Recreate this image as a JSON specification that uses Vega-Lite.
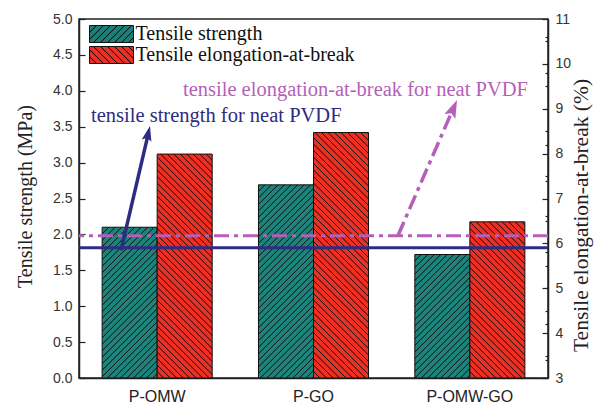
{
  "$schema": "https://vega.github.io/schema/vega-lite/v6.json",
  "width": 469,
  "height": 359,
  "autosize": {"type": "none"},
  "padding": {"left": 79, "top": 19, "right": 47, "bottom": 26},
  "background": "white",
  "config": {
    "view": {"stroke": "#222", "strokeWidth": 1.5},
    "axis": {"grid": false, "domainColor": "#222", "domainWidth": 1.5, "tickColor": "#222", "tickWidth": 1.2, "labelFont": "Liberation Sans", "labelFontSize": 14, "labelColor": "#333", "titleFont": "Liberation Serif", "titleFontSize": 21.5, "titleFontWeight": "normal", "titleColor": "#222"}
  },
  "params": [
    {"name": "hatch", "expr": "[{offset:0.017,color:'transparent'},{offset:0.02,color:'#111'},{offset:0.023,color:'transparent'},{offset:0.037,color:'transparent'},{offset:0.04,color:'#111'},{offset:0.043,color:'transparent'},{offset:0.057,color:'transparent'},{offset:0.06,color:'#111'},{offset:0.063,color:'transparent'},{offset:0.077,color:'transparent'},{offset:0.08,color:'#111'},{offset:0.083,color:'transparent'},{offset:0.097,color:'transparent'},{offset:0.1,color:'#111'},{offset:0.103,color:'transparent'},{offset:0.117,color:'transparent'},{offset:0.12,color:'#111'},{offset:0.123,color:'transparent'},{offset:0.137,color:'transparent'},{offset:0.14,color:'#111'},{offset:0.143,color:'transparent'},{offset:0.157,color:'transparent'},{offset:0.16,color:'#111'},{offset:0.163,color:'transparent'},{offset:0.177,color:'transparent'},{offset:0.18,color:'#111'},{offset:0.183,color:'transparent'},{offset:0.197,color:'transparent'},{offset:0.2,color:'#111'},{offset:0.203,color:'transparent'},{offset:0.217,color:'transparent'},{offset:0.22,color:'#111'},{offset:0.223,color:'transparent'},{offset:0.237,color:'transparent'},{offset:0.24,color:'#111'},{offset:0.243,color:'transparent'},{offset:0.257,color:'transparent'},{offset:0.26,color:'#111'},{offset:0.263,color:'transparent'},{offset:0.277,color:'transparent'},{offset:0.28,color:'#111'},{offset:0.283,color:'transparent'},{offset:0.297,color:'transparent'},{offset:0.3,color:'#111'},{offset:0.303,color:'transparent'},{offset:0.317,color:'transparent'},{offset:0.32,color:'#111'},{offset:0.323,color:'transparent'},{offset:0.337,color:'transparent'},{offset:0.34,color:'#111'},{offset:0.343,color:'transparent'},{offset:0.357,color:'transparent'},{offset:0.36,color:'#111'},{offset:0.363,color:'transparent'},{offset:0.377,color:'transparent'},{offset:0.38,color:'#111'},{offset:0.383,color:'transparent'},{offset:0.397,color:'transparent'},{offset:0.4,color:'#111'},{offset:0.403,color:'transparent'},{offset:0.417,color:'transparent'},{offset:0.42,color:'#111'},{offset:0.423,color:'transparent'},{offset:0.437,color:'transparent'},{offset:0.44,color:'#111'},{offset:0.443,color:'transparent'},{offset:0.457,color:'transparent'},{offset:0.46,color:'#111'},{offset:0.463,color:'transparent'},{offset:0.477,color:'transparent'},{offset:0.48,color:'#111'},{offset:0.483,color:'transparent'},{offset:0.497,color:'transparent'},{offset:0.5,color:'#111'},{offset:0.503,color:'transparent'},{offset:0.517,color:'transparent'},{offset:0.52,color:'#111'},{offset:0.523,color:'transparent'},{offset:0.537,color:'transparent'},{offset:0.54,color:'#111'},{offset:0.543,color:'transparent'},{offset:0.557,color:'transparent'},{offset:0.56,color:'#111'},{offset:0.563,color:'transparent'},{offset:0.577,color:'transparent'},{offset:0.58,color:'#111'},{offset:0.583,color:'transparent'},{offset:0.597,color:'transparent'},{offset:0.6,color:'#111'},{offset:0.603,color:'transparent'},{offset:0.617,color:'transparent'},{offset:0.62,color:'#111'},{offset:0.623,color:'transparent'},{offset:0.637,color:'transparent'},{offset:0.64,color:'#111'},{offset:0.643,color:'transparent'},{offset:0.657,color:'transparent'},{offset:0.66,color:'#111'},{offset:0.663,color:'transparent'},{offset:0.677,color:'transparent'},{offset:0.68,color:'#111'},{offset:0.683,color:'transparent'},{offset:0.697,color:'transparent'},{offset:0.7,color:'#111'},{offset:0.703,color:'transparent'},{offset:0.717,color:'transparent'},{offset:0.72,color:'#111'},{offset:0.723,color:'transparent'},{offset:0.737,color:'transparent'},{offset:0.74,color:'#111'},{offset:0.743,color:'transparent'},{offset:0.757,color:'transparent'},{offset:0.76,color:'#111'},{offset:0.763,color:'transparent'},{offset:0.777,color:'transparent'},{offset:0.78,color:'#111'},{offset:0.783,color:'transparent'},{offset:0.797,color:'transparent'},{offset:0.8,color:'#111'},{offset:0.803,color:'transparent'},{offset:0.817,color:'transparent'},{offset:0.82,color:'#111'},{offset:0.823,color:'transparent'},{offset:0.837,color:'transparent'},{offset:0.84,color:'#111'},{offset:0.843,color:'transparent'},{offset:0.857,color:'transparent'},{offset:0.86,color:'#111'},{offset:0.863,color:'transparent'},{offset:0.877,color:'transparent'},{offset:0.88,color:'#111'},{offset:0.883,color:'transparent'},{offset:0.897,color:'transparent'},{offset:0.9,color:'#111'},{offset:0.903,color:'transparent'},{offset:0.917,color:'transparent'},{offset:0.92,color:'#111'},{offset:0.923,color:'transparent'},{offset:0.937,color:'transparent'},{offset:0.94,color:'#111'},{offset:0.943,color:'transparent'},{offset:0.957,color:'transparent'},{offset:0.96,color:'#111'},{offset:0.963,color:'transparent'},{offset:0.977,color:'transparent'},{offset:0.98,color:'#111'},{offset:0.983,color:'transparent'}]"},
    {"name": "tealLegendGrad", "expr": "{gradient:'linear',x1:0,y1:0,x2:1.246,y2:0.481,stops:[{offset:0,color:'#1a8078'},{offset:0.093,color:'#1a8078'},{offset:0.111,color:'#111'},{offset:0.129,color:'#1a8078'},{offset:0.204,color:'#1a8078'},{offset:0.222,color:'#111'},{offset:0.24,color:'#1a8078'},{offset:0.315,color:'#1a8078'},{offset:0.333,color:'#111'},{offset:0.351,color:'#1a8078'},{offset:0.426,color:'#1a8078'},{offset:0.444,color:'#111'},{offset:0.462,color:'#1a8078'},{offset:0.538,color:'#1a8078'},{offset:0.556,color:'#111'},{offset:0.574,color:'#1a8078'},{offset:0.649,color:'#1a8078'},{offset:0.667,color:'#111'},{offset:0.685,color:'#1a8078'},{offset:0.76,color:'#1a8078'},{offset:0.778,color:'#111'},{offset:0.796,color:'#1a8078'},{offset:0.871,color:'#1a8078'},{offset:0.889,color:'#111'},{offset:0.907,color:'#1a8078'},{offset:1,color:'#1a8078'}]}"},
    {"name": "redLegendGrad", "expr": "{gradient:'linear',x1:0,y1:1,x2:1.246,y2:0.519,stops:[{offset:0,color:'#ed2f24'},{offset:0.093,color:'#ed2f24'},{offset:0.111,color:'#111'},{offset:0.129,color:'#ed2f24'},{offset:0.204,color:'#ed2f24'},{offset:0.222,color:'#111'},{offset:0.24,color:'#ed2f24'},{offset:0.315,color:'#ed2f24'},{offset:0.333,color:'#111'},{offset:0.351,color:'#ed2f24'},{offset:0.426,color:'#ed2f24'},{offset:0.444,color:'#111'},{offset:0.462,color:'#ed2f24'},{offset:0.538,color:'#ed2f24'},{offset:0.556,color:'#111'},{offset:0.574,color:'#ed2f24'},{offset:0.649,color:'#ed2f24'},{offset:0.667,color:'#111'},{offset:0.685,color:'#ed2f24'},{offset:0.76,color:'#ed2f24'},{offset:0.778,color:'#111'},{offset:0.796,color:'#ed2f24'},{offset:0.871,color:'#ed2f24'},{offset:0.889,color:'#111'},{offset:0.907,color:'#ed2f24'},{offset:1,color:'#ed2f24'}]}"}
  ],
  "datasets": {
    "bars": [
      {"sample": "P-OMW", "property": "Tensile strength", "value": 2.10},
      {"sample": "P-GO", "property": "Tensile strength", "value": 2.69},
      {"sample": "P-OMW-GO", "property": "Tensile strength", "value": 1.72},
      {"sample": "P-OMW", "property": "Tensile elongation-at-break", "value": 7.99},
      {"sample": "P-GO", "property": "Tensile elongation-at-break", "value": 8.47},
      {"sample": "P-OMW-GO", "property": "Tensile elongation-at-break", "value": 6.48}
    ]
  },
  "layer": [
    {
      "data": {"name": "bars"},
      "transform": [{"filter": "datum.property === 'Tensile strength'"}],
      "mark": {"type": "bar", "color": "#1d837b"},
      "encoding": {
        "x": {"field": "sample", "type": "nominal", "scale": {"domain": ["P-OMW", "P-GO", "P-OMW-GO"], "paddingInner": 0.296, "paddingOuter": 0.148}, "axis": {"title": null, "labelAngle": 0, "labelFontSize": 16, "labelColor": "#222", "labelPadding": 10, "ticks": false, "tickSize": 0}},
        "xOffset": {"field": "property", "type": "nominal", "scale": {"domain": ["Tensile strength", "Tensile elongation-at-break"]}},
        "y": {"field": "value", "type": "quantitative", "scale": {"domain": [0, 5]}, "axis": {"title": "Tensile strength (MPa)", "titleFontSize": 20, "titleY": 177, "values": [0, 0.5, 1, 1.5, 2, 2.5, 3, 3.5, 4, 4.5, 5], "format": ".1f", "tickSize": -6, "labelPadding": 13, "titlePadding": 17}}
      }
    },
    {
      "data": {"name": "bars"},
      "transform": [{"filter": "datum.property === 'Tensile strength'"}],
      "mark": {"type": "bar", "fill": {"expr": "{gradient:'linear',x1:0,y1:0,x2:17875/(3025+pow(datum.value*71.8,2)),y2:325*datum.value*71.8/(3025+pow(datum.value*71.8,2)),stops:hatch}"}, "stroke": "#111", "strokeWidth": 1},
      "encoding": {
        "x": {"field": "sample", "type": "nominal", "scale": {"domain": ["P-OMW", "P-GO", "P-OMW-GO"], "paddingInner": 0.296, "paddingOuter": 0.148}, "axis": null},
        "xOffset": {"field": "property", "type": "nominal", "scale": {"domain": ["Tensile strength", "Tensile elongation-at-break"]}},
        "y": {"field": "value", "type": "quantitative", "scale": {"domain": [0, 5]}, "axis": {"title": null, "labels": false, "domain": false, "values": [0.25, 0.75, 1.25, 1.75, 2.25, 2.75, 3.25, 3.75, 4.25, 4.75], "tickSize": -3}}
      }
    },
    {
      "data": {"name": "bars"},
      "transform": [{"filter": "datum.property === 'Tensile elongation-at-break'"}],
      "mark": {"type": "bar", "color": "#ed2f24"},
      "encoding": {
        "x": {"field": "sample", "type": "nominal", "scale": {"domain": ["P-OMW", "P-GO", "P-OMW-GO"], "paddingInner": 0.296, "paddingOuter": 0.148}, "axis": null},
        "xOffset": {"field": "property", "type": "nominal", "scale": {"domain": ["Tensile strength", "Tensile elongation-at-break"]}},
        "y": {"field": "value", "type": "quantitative", "scale": {"domain": [3, 11], "zero": false}, "axis": {"orient": "right", "title": "Tensile elongation-at-break (%)", "titleFontSize": 21.5, "titleY": 196, "titleAngle": 270, "titleBaseline": "top", "values": [3, 4, 5, 6, 7, 8, 9, 10, 11], "format": "d", "tickSize": -6, "labelPadding": 13, "titlePadding": 0}},
        "y2": {"datum": 3}
      }
    },
    {
      "data": {"name": "bars"},
      "transform": [{"filter": "datum.property === 'Tensile elongation-at-break'"}],
      "mark": {"type": "bar", "fill": {"expr": "{gradient:'linear',x1:0,y1:1,x2:17875/(3025+pow((datum.value-3)*44.875,2)),y2:1-325*(datum.value-3)*44.875/(3025+pow((datum.value-3)*44.875,2)),stops:hatch}"}, "stroke": "#111", "strokeWidth": 1},
      "encoding": {
        "x": {"field": "sample", "type": "nominal", "scale": {"domain": ["P-OMW", "P-GO", "P-OMW-GO"], "paddingInner": 0.296, "paddingOuter": 0.148}, "axis": null},
        "xOffset": {"field": "property", "type": "nominal", "scale": {"domain": ["Tensile strength", "Tensile elongation-at-break"]}},
        "y": {"field": "value", "type": "quantitative", "scale": {"domain": [3, 11], "zero": false}, "axis": {"orient": "right", "title": null, "labels": false, "domain": false, "values": [3.5, 4.5, 5.5, 6.5, 7.5, 8.5, 9.5, 10.5], "tickSize": -3}},
        "y2": {"datum": 3}
      }
    },
    {
      "data": {"values": [{"value": 1.815}]},
      "mark": {"type": "rule", "color": "#2e2b80", "strokeWidth": 3},
      "encoding": {"y": {"field": "value", "type": "quantitative", "scale": {"domain": [0, 5]}, "axis": null}}
    },
    {
      "data": {"values": [{"x": 0.269, "y": 1.78, "x2": 0.443, "y2": 3.40}]},
      "mark": {"type": "rule", "color": "#2e2b80", "strokeWidth": 3.5},
      "encoding": {
        "x": {"field": "x", "type": "quantitative", "scale": {"domain": [0, 3], "nice": false}, "axis": null},
        "y": {"field": "y", "type": "quantitative", "scale": {"domain": [0, 5]}, "axis": null},
        "x2": {"field": "x2"},
        "y2": {"field": "y2"}
      }
    },
    {
      "data": {"values": [{"x": 0.454, "y": 3.51}]},
      "mark": {"type": "point", "shape": "M0,0L-0.5,1.5L0,1.2L0.5,1.5Z", "size": 400, "angle": 13.2, "filled": true, "opacity": 1, "color": "#2e2b80", "strokeWidth": 0},
      "encoding": {
        "x": {"field": "x", "type": "quantitative", "scale": {"domain": [0, 3], "nice": false}, "axis": null},
        "y": {"field": "y", "type": "quantitative", "scale": {"domain": [0, 5]}, "axis": null}
      }
    },
    {
      "data": {"values": [{"x": 0.077, "y": 3.565, "label": "tensile strength for neat PVDF"}]},
      "mark": {"type": "text", "align": "left", "baseline": "alphabetic", "font": "Liberation Serif", "fontSize": 20.5, "color": "#2e2b80"},
      "encoding": {
        "x": {"field": "x", "type": "quantitative", "scale": {"domain": [0, 3], "nice": false}, "axis": null},
        "y": {"field": "y", "type": "quantitative", "scale": {"domain": [0, 5]}, "axis": null},
        "text": {"field": "label"}
      }
    },
    {
      "data": {"values": [{"value": 6.17}]},
      "mark": {"type": "rule", "color": "#b55fba", "strokeWidth": 3, "strokeDash": [15, 5, 4, 5]},
      "encoding": {"y": {"field": "value", "type": "quantitative", "scale": {"domain": [3, 11], "zero": false}, "axis": null}}
    },
    {
      "data": {"values": [{"x": 2.04, "y": 6.17, "x2": 2.392, "y2": 8.99}]},
      "mark": {"type": "rule", "color": "#b55fba", "strokeWidth": 3.5, "strokeDash": [15, 5, 4, 5]},
      "encoding": {
        "x": {"field": "x", "type": "quantitative", "scale": {"domain": [0, 3], "nice": false}, "axis": null},
        "y": {"field": "y", "type": "quantitative", "scale": {"domain": [3, 11], "zero": false}, "axis": null},
        "x2": {"field": "x2"},
        "y2": {"field": "y2"}
      }
    },
    {
      "data": {"values": [{"x": 2.418, "y": 9.195}]},
      "mark": {"type": "point", "shape": "M0,0L-0.5,1.5L0,1.2L0.5,1.5Z", "size": 576, "angle": 23.5, "filled": true, "opacity": 1, "color": "#b55fba", "strokeWidth": 0},
      "encoding": {
        "x": {"field": "x", "type": "quantitative", "scale": {"domain": [0, 3], "nice": false}, "axis": null},
        "y": {"field": "y", "type": "quantitative", "scale": {"domain": [3, 11], "zero": false}, "axis": null}
      }
    },
    {
      "data": {"values": [{"x": 0.665, "y": 9.29, "label": "tensile elongation-at-break for neat PVDF"}]},
      "mark": {"type": "text", "align": "left", "baseline": "alphabetic", "font": "Liberation Serif", "fontSize": 20.5, "color": "#b55fba"},
      "encoding": {
        "x": {"field": "x", "type": "quantitative", "scale": {"domain": [0, 3], "nice": false}, "axis": null},
        "y": {"field": "y", "type": "quantitative", "scale": {"domain": [3, 11], "zero": false}, "axis": null},
        "text": {"field": "label"}
      }
    },
    {
      "data": {"name": "bars"},
      "transform": [{"filter": "false"}],
      "mark": {"type": "bar", "stroke": "#111", "strokeWidth": 1},
      "encoding": {
        "fill": {
          "field": "property", "type": "nominal",
          "scale": {"domain": ["Tensile strength", "Tensile elongation-at-break"], "range": [{"expr": "tealLegendGrad"}, {"expr": "redLegendGrad"}]},
          "legend": {
            "title": null, "orient": "none", "legendX": 22.5, "legendY": 5,
            "symbolType": "M-2.588,-1H2.588V1H-2.588Z", "symbolSize": 289, "symbolStrokeColor": "#111", "symbolStrokeWidth": 1, "symbolOpacity": 1,
            "labelFont": "Liberation Serif", "labelFontSize": 20, "labelColor": "#111", "labelOffset": 14, "labelLimit": 400, "rowPadding": -2, "padding": 0
          }
        }
      }
    }
  ],
  "resolve": {"scale": {"x": "independent", "y": "independent", "xOffset": "independent"}}
}
